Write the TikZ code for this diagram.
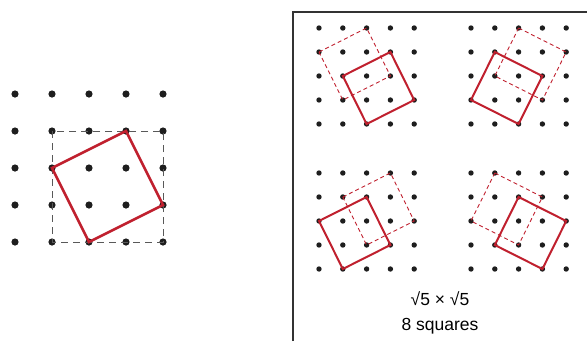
\documentclass[tikz,border=0pt]{standalone}
\usepackage{fontspec}
\setmainfont{Liberation Sans}
\definecolor{sqred}{RGB}{192,32,46}
\definecolor{dotc}{RGB}{30,30,30}
\begin{document}
\begin{tikzpicture}[x=1pt,y=-1pt,
 redsq/.style={draw=sqred,line width=2pt,line join=miter},
 reddash/.style={draw=sqred,line width=0.9pt,dash pattern=on 4pt off 3pt},
 graydash/.style={draw=black!65,line width=1pt,dash pattern=on 7pt off 5pt},
 frameline/.style={draw=black!80,line width=1.3pt},
 lbl/.style={font=\fontsize{17.5}{20}\selectfont,inner sep=0pt}]
\useasboundingbox (0,0) rectangle (587,341);
% left grid
\foreach \i in {0,...,4}{\foreach \j in {0,...,4}{
  \coordinate (L-\i-\j) at (15+37*\i,94+37*\j);
  \fill[dotc] (L-\i-\j) circle (3.6);}}
\draw[graydash] (L-1-1) rectangle (L-4-4);
\draw[redsq,line width=2.6pt] (L-1-2) -- (L-3-1) -- (L-4-3) -- (L-2-4) -- cycle;
% frame
\coordinate (F1) at (293,341);
\coordinate (F2) at (293,12);
\coordinate (F3) at (587,12);
\draw[frameline] (F1) -- (F2) -- (F3);
% sub grids
\foreach \g/\ox/\oy in {A/319/28,B/471/28,C/319/173,D/471/173}{
 \foreach \i in {0,...,4}{\foreach \j in {0,...,4}{
  \coordinate (\g-\i-\j) at (\ox+23.8*\i,\oy+24*\j);
  \fill[dotc] (\g-\i-\j) circle (2.7);}}}
\draw[reddash] (A-0-1) -- (A-2-0) -- (A-3-2) -- (A-1-3) -- cycle;
\draw[redsq] (A-1-2) -- (A-3-1) -- (A-4-3) -- (A-2-4) -- cycle;
\draw[reddash] (B-2-0) -- (B-4-1) -- (B-3-3) -- (B-1-2) -- cycle;
\draw[redsq] (B-1-1) -- (B-3-2) -- (B-2-4) -- (B-0-3) -- cycle;
\draw[reddash] (C-1-1) -- (C-3-0) -- (C-4-2) -- (C-2-3) -- cycle;
\draw[redsq] (C-0-2) -- (C-2-1) -- (C-3-3) -- (C-1-4) -- cycle;
\draw[reddash] (D-1-0) -- (D-3-1) -- (D-2-3) -- (D-0-2) -- cycle;
\draw[redsq] (D-2-1) -- (D-4-2) -- (D-3-4) -- (D-1-3) -- cycle;
% labels
\node[lbl] (t1) at (440,299) {√5 × √5};
\node[lbl] (t2) at (440,326) {8 squares};
\end{tikzpicture}
\end{document}
